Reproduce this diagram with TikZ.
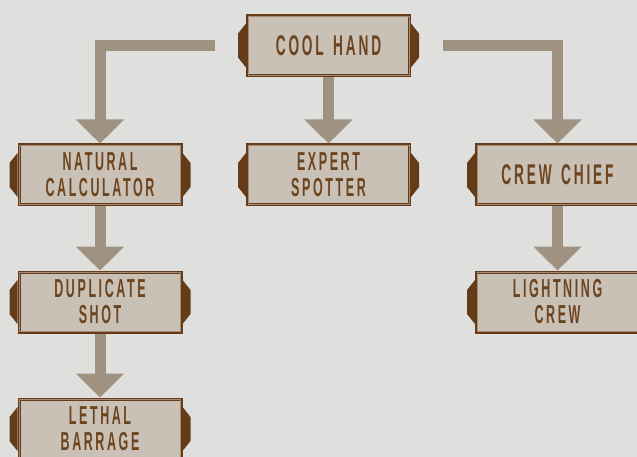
\documentclass[tikz,border=0pt]{standalone}
\usepackage{fontspec}
\usetikzlibrary{arrows.meta,calc}
\newfontfamily\skillfont[FakeStretch=0.48,LetterSpace=10,WordSpace=1.4]{Liberation Sans Bold}
\definecolor{bgc}{RGB}{223,223,221}
\definecolor{arrowc}{RGB}{160,146,128}
\definecolor{boxfill}{RGB}{201,192,182}
\definecolor{boxborder}{RGB}{100,60,25}
\definecolor{innerc}{RGB}{165,140,115}
\definecolor{textc}{RGB}{108,68,30}
\tikzset{
  skillbox/.style={rectangle, minimum width=162pt, minimum height=60pt,
    inner sep=0pt, fill=boxfill, draw=boxborder, line width=3pt,
    text=textc, align=center},
  oneline/.style={font=\skillfont\fontsize{28.5}{28.5}\selectfont},
  twoline/.style={font=\skillfont\fontsize{26}{26}\selectfont},
  flow/.style={draw=arrowc, line width=11pt, line join=miter,
    -{Triangle[width=47pt,length=24pt]}}
}
\begin{document}
\begin{tikzpicture}[x=1pt,y=-1pt]
\fill[bgc] (0,0) rectangle (637,457);
\useasboundingbox (0,0) rectangle (637,457);

% nodes
\node[skillbox,oneline] (cool) at (328.5,45.5) {COOL HAND};
\node[skillbox,twoline] (nat)  at (100,175) {NATURAL\\CALCULATOR};
\node[skillbox,twoline] (exp)  at (328.5,175) {EXPERT\\SPOTTER};
\node[skillbox,oneline] (crew) at (557.5,175) {CREW CHIEF};
\node[skillbox,twoline] (dup)  at (100,302) {DUPLICATE\\SHOT};
\node[skillbox,twoline] (light) at (557.5,302) {LIGHTNING\\CREW};
\node[skillbox,twoline] (leth) at (100,429) {LETHAL\\BARRAGE};

% inner lines and side tabs
\foreach \n in {cool,nat,exp,crew,dup,light,leth}{
  \draw[innerc, line width=0.8pt] ($(\n.north west)+(2,2)$) rectangle ($(\n.south east)+(-2,-2)$);
  \fill[boxborder] ($(\n.west)+(0,-22)$) -- ++(-8,10) -- ++(0,24) -- ++(8,10) -- cycle;
  \fill[boxborder] ($(\n.east)+(0,-22)$) -- ++(8,10) -- ++(0,24) -- ++(-8,10) -- cycle;
}

% connectors
\draw[flow] ([xshift=-31pt]cool.west) -| (nat.north);
\draw[flow] ([xshift=32pt]cool.east) -| (crew.north);
\draw[flow] (cool.south) -- (exp.north);
\draw[flow] (nat.south) -- (dup.north);
\draw[flow] (dup.south) -- (leth.north);
\draw[flow] (crew.south) -- (light.north);
\end{tikzpicture}
\end{document}
